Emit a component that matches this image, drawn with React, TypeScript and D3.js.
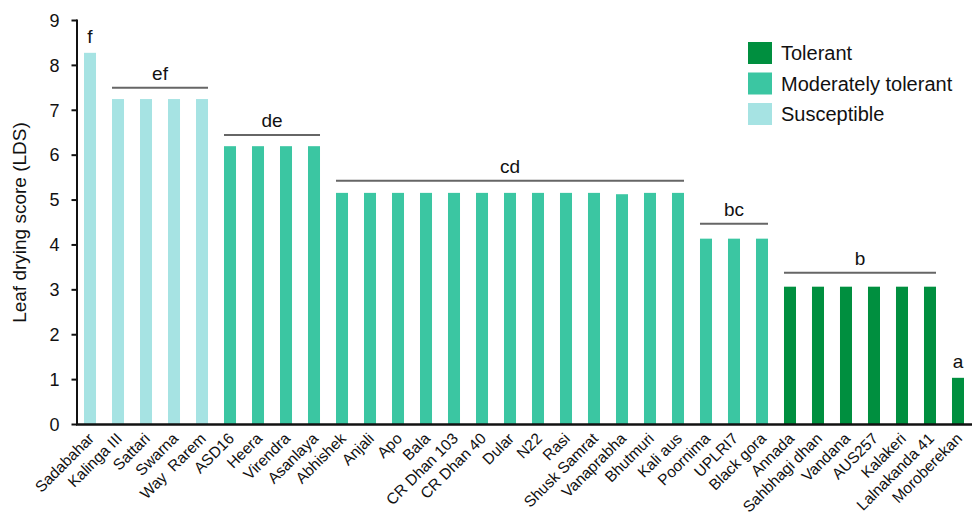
import React from "react";
import * as d3 from "d3";

// Rice genotypes and their leaf drying scores
const genotypes = [
  "Sadabahar", "Kalinga III", "Sattari", "Swarna", "Way  Rarem", "ASD16", "Heera", "Virendra",
  "Asanlaya", "Abhishek", "Anjali", "Apo", "Bala", "CR Dhan 103", "CR Dhan 40", "Dular", "N22",
  "Rasi", "Shusk Samrat", "Vanaprabha", "Bhutmuri", "Kali aus", "Poornima", "UPLRI7", "Black gora",
  "Annada", "Sahbhagi dhan", "Vandana", "AUS257", "Kalakeri", "Lalnakanda 41", "Moroberekan",
];
const scores = [
  8.28, 7.25, 7.25, 7.25, 7.25, 6.2, 6.2, 6.2, 6.2, 5.16, 5.16, 5.16, 5.16, 5.16, 5.16, 5.16, 5.16,
  5.16, 5.16, 5.13, 5.16, 5.16, 4.14, 4.14, 4.14, 3.07, 3.07, 3.07, 3.07, 3.07, 3.07, 1.04,
];
const classes = [
  "S", "S", "S", "S", "S", "M", "M", "M", "M", "M", "M", "M", "M", "M", "M", "M", "M",
  "M", "M", "M", "M", "M", "M", "M", "M", "T", "T", "T", "T", "T", "T", "T",
];

// Significance groups: letter, first / last genotype index, bracket height
const groupLetters = ["ef", "de", "cd", "bc", "b"];
const groupStart = [1, 5, 9, 22, 25];
const groupEnd = [4, 8, 21, 24, 30];
const groupLevel = [7.5, 6.45, 5.43, 4.47, 3.38];

// Single-bar letters
const singleLetters = ["f", "a"];
const singleIndex = [0, 31];

const legendKeys = ["T", "M", "S"];
const legendLabels = ["Tolerant", "Moderately tolerant", "Susceptible"];
const yTicks = [0, 1, 2, 3, 4, 5, 6, 7, 8, 9];

const colors: Record<string, string> = {
  T: "#008f3f",
  M: "#3bc6a2",
  S: "#a6e3e3",
};

const W = 972;
const H = 514;
const font = "Liberation Sans, Arial, sans-serif";

export default function App() {
  const x = d3
    .scaleBand<string>()
    .domain(genotypes)
    .range([77, 971])
    .paddingInner(0.571)
    .paddingOuter(0.25);
  const y = d3.scaleLinear().domain([0, 9]).range([424.5, 20.5]);
  const bw = x.bandwidth();

  return (
    <svg
      width={W}
      height={H}
      style={{ position: "absolute", left: 0, top: 0, background: "#fff" }}
      fontFamily={font}
    >
      {/* bars */}
      {genotypes.map((g, i) => (
        <rect
          key={g}
          x={x(g)}
          y={y(scores[i])}
          width={bw}
          height={y(0) - y(scores[i])}
          fill={colors[classes[i]]}
        />
      ))}

      {/* group brackets */}
      {groupLetters.map((l, k) => {
        const x0 = x(genotypes[groupStart[k]])!;
        const x1 = x(genotypes[groupEnd[k]])! + bw;
        const yy = y(groupLevel[k]);
        return (
          <g key={l}>
            <line x1={x0} x2={x1} y1={yy} y2={yy} stroke="#666" strokeWidth={2} />
            <text x={(x0 + x1) / 2} y={yy - 8} textAnchor="middle" fontSize={19} fill="#111">
              {l}
            </text>
          </g>
        );
      })}
      {singleLetters.map((l, k) => {
        const g = genotypes[singleIndex[k]];
        return (
          <text
            key={l}
            x={x(g)! + bw / 2}
            y={y(scores[singleIndex[k]]) - 10}
            textAnchor="middle"
            fontSize={19}
            fill="#111"
          >
            {l}
          </text>
        );
      })}

      {/* y axis */}
      <line x1={77} x2={77} y1={y(9) - 1} y2={y(0)} stroke="#111" strokeWidth={2} />
      {yTicks.map((t) => (
        <g key={t}>
          <line x1={71.5} x2={77} y1={y(t)} y2={y(t)} stroke="#111" strokeWidth={2} />
          <text x={59.5} y={y(t)} dy="0.35em" textAnchor="end" fontSize={18} fill="#111">
            {t}
          </text>
        </g>
      ))}
      <text
        transform={`translate(26,${(y(0) + y(9)) / 2}) rotate(-90)`}
        textAnchor="middle"
        fontSize={19}
        fill="#111"
      >
        Leaf drying score (LDS)
      </text>

      {/* x axis */}
      <line x1={76} x2={W} y1={y(0)} y2={y(0)} stroke="#111" strokeWidth={2.5} />
      {genotypes.map((g) => (
        <text
          key={g}
          transform={`translate(${x(g)! + bw / 2 + 5},${y(0) + 15}) rotate(-45)`}
          textAnchor="end"
          fontSize={15.5}
          fill="#111"
          style={{ whiteSpace: "pre" }}
        >
          {g}
        </text>
      ))}

      {/* legend */}
      {legendKeys.map((k, i) => (
        <g key={k} transform={`translate(748,${42 + i * 30.5})`}>
          <rect width={24} height={22} fill={colors[k]} />
          <text x={33} y={11} dy="0.35em" fontSize={20} fill="#111">
            {legendLabels[i]}
          </text>
        </g>
      ))}
    </svg>
  );
}
